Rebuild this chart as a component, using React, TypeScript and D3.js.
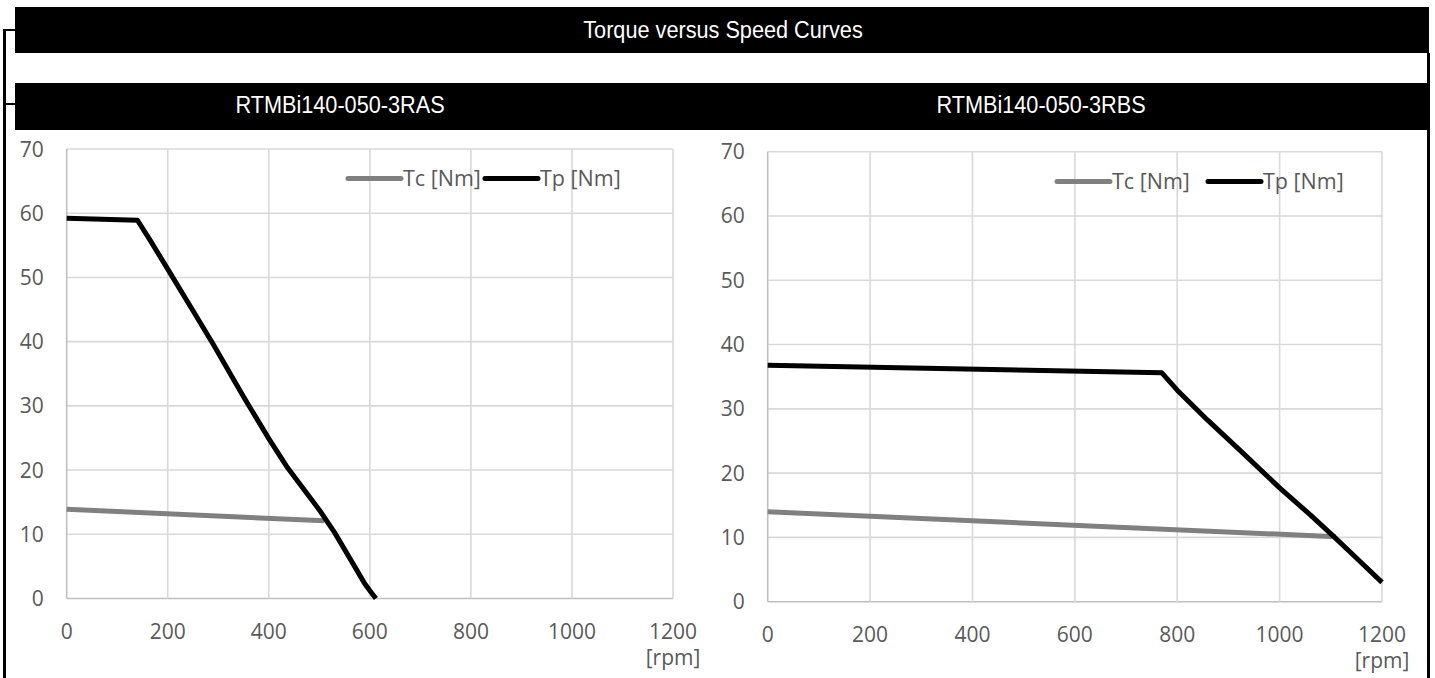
import * as d3 from "d3";

const W = 1435;
const H = 678;

// data
const rpmTicks = [0, 200, 400, 600, 800, 1000, 1200];
const torqueTicks = [0, 10, 20, 30, 40, 50, 60, 70];
const seriesNames = ["Tc [Nm]", "Tp [Nm]"];
const modelNames = ["RTMBi140-050-3RAS", "RTMBi140-050-3RBS"];
const mainTitle = "Torque versus Speed Curves";
const axisUnit = "[rpm]";

const tcRAS: [number, number][] = [
  [0, 13.9],
  [510, 12.1],
];
const tpRAS: [number, number][] = [
  [0, 59.2],
  [140, 58.9],
  [165, 55.8],
  [200, 51.3],
  [250, 44.8],
  [290, 39.6],
  [350, 31.4],
  [400, 24.9],
  [435, 20.6],
  [500, 13.8],
  [530, 10.3],
  [560, 6.3],
  [575, 4.3],
  [590, 2.3],
  [602, 1.0],
  [612, 0],
];
const tcRBS: [number, number][] = [
  [0, 14.0],
  [1110, 10.1],
];
const tpRBS: [number, number][] = [
  [0, 36.8],
  [770, 35.6],
  [800, 32.9],
  [860, 28.2],
  [930, 23.0],
  [1000, 17.7],
  [1060, 13.5],
  [1105, 10.2],
  [1150, 6.8],
  [1200, 3.0],
];

const panels = [
  { left: 66.7, right: 673, top: 149, bottom: 598.5, legendY: 178.5, legendTc: 348, legendTp: 485, titleX: 340, tc: tcRAS, tp: tpRAS, name: modelNames[0] },
  { left: 767.7, right: 1382, top: 151.7, bottom: 601.7, legendY: 181.5, legendTc: 1057, legendTp: 1208, titleX: 1041, tc: tcRBS, tp: tpRBS, name: modelNames[1] },
];

const labelFont = "'Open Sans', sans-serif";
const headFont = "'Liberation Sans', Arial, sans-serif";
const labelColor = "#595959";

function HeadText({ x, y, text }: { x: number; y: number; text: string }) {
  return (
    <text
      transform={`translate(${x},${y}) scale(0.885,1)`}
      textAnchor="middle"
      fill="#fff"
      fontFamily={headFont}
      fontSize={24.5}
    >
      {text}
    </text>
  );
}

function Panel({ p }: { p: (typeof panels)[number] }) {
  const x = d3.scaleLinear().domain([0, 1200]).range([p.left, p.right]);
  const y = d3.scaleLinear().domain([0, 70]).range([p.bottom, p.top]);
  const line = d3
    .line<[number, number]>()
    .x((d) => x(d[0]))
    .y((d) => y(d[1]));

  return (
    <g>
      {torqueTicks.map((t) => (
        <line
          key={"h" + t}
          x1={p.left}
          x2={p.right}
          y1={y(t)}
          y2={y(t)}
          stroke={t === 0 ? "#bfbfbf" : "#d9d9d9"}
          strokeWidth={1.6}
        />
      ))}
      {rpmTicks.map((t) => (
        <line
          key={"v" + t}
          x1={x(t)}
          x2={x(t)}
          y1={p.top}
          y2={p.bottom}
          stroke={t === 0 ? "#bfbfbf" : "#d9d9d9"}
          strokeWidth={1.6}
        />
      ))}
      {torqueTicks.map((t) => (
        <text
          key={"yl" + t}
          x={p.left - 23}
          y={y(t) + 7.5}
          textAnchor="end"
          fontFamily={labelFont}
          fontSize={21}
          fill={labelColor}
        >
          {t}
        </text>
      ))}
      {rpmTicks.map((t) => (
        <text
          key={"xl" + t}
          x={x(t)}
          y={p.bottom + 40}
          textAnchor="middle"
          fontFamily={labelFont}
          fontSize={21}
          fill={labelColor}
        >
          {t}
        </text>
      ))}
      <text
        x={x(1200)}
        y={p.bottom + 66}
        textAnchor="middle"
        fontFamily={labelFont}
        fontSize={21}
        fill={labelColor}
      >
        {axisUnit}
      </text>

      <path d={line(p.tc) ?? ""} fill="none" stroke="#808080" strokeWidth={5} strokeLinejoin="round" />
      <path d={line(p.tp) ?? ""} fill="none" stroke="#000" strokeWidth={5} strokeLinejoin="round" />

      {/* legend */}
      <line x1={p.legendTc} x2={p.legendTc + 53} y1={p.legendY} y2={p.legendY} stroke="#808080" strokeWidth={5} strokeLinecap="round" />
      <text x={p.legendTc + 55} y={p.legendY + 7.5} fontFamily={labelFont} fontSize={21.5} fill={labelColor}>
        {seriesNames[0]}
      </text>
      <line x1={p.legendTp} x2={p.legendTp + 53} y1={p.legendY} y2={p.legendY} stroke="#000" strokeWidth={5} strokeLinecap="round" />
      <text x={p.legendTp + 55} y={p.legendY + 7.5} fontFamily={labelFont} fontSize={21.5} fill={labelColor}>
        {seriesNames[1]}
      </text>
    </g>
  );
}

export default function App() {
  return (
    <svg
      width={W}
      height={H}
      viewBox={`0 0 ${W} ${H}`}
      style={{ position: "absolute", left: 0, top: 0, display: "block", background: "#fff" }}
    >
      {/* frame lines */}
      <line x1={4.5} x2={4.5} y1={29} y2={H} stroke="#000" strokeWidth={3} />
      <line x1={4.5} x2={15} y1={30} y2={30} stroke="#000" strokeWidth={2} />
      <line x1={4.5} x2={15} y1={104} y2={104} stroke="#000" strokeWidth={2} />
      <line x1={1428.5} x2={1428.5} y1={53} y2={H} stroke="#000" strokeWidth={3} />

      <rect x={15} y={7} width={1414} height={46} fill="#000" />
      <rect x={15} y={83} width={1412} height={47} fill="#000" />
      <HeadText x={723} y={38.3} text={mainTitle} />
      {panels.map((p) => (
        <HeadText key={p.name} x={p.titleX} y={113.3} text={p.name} />
      ))}

      {panels.map((p) => (
        <Panel key={p.name} p={p} />
      ))}
    </svg>
  );
}
